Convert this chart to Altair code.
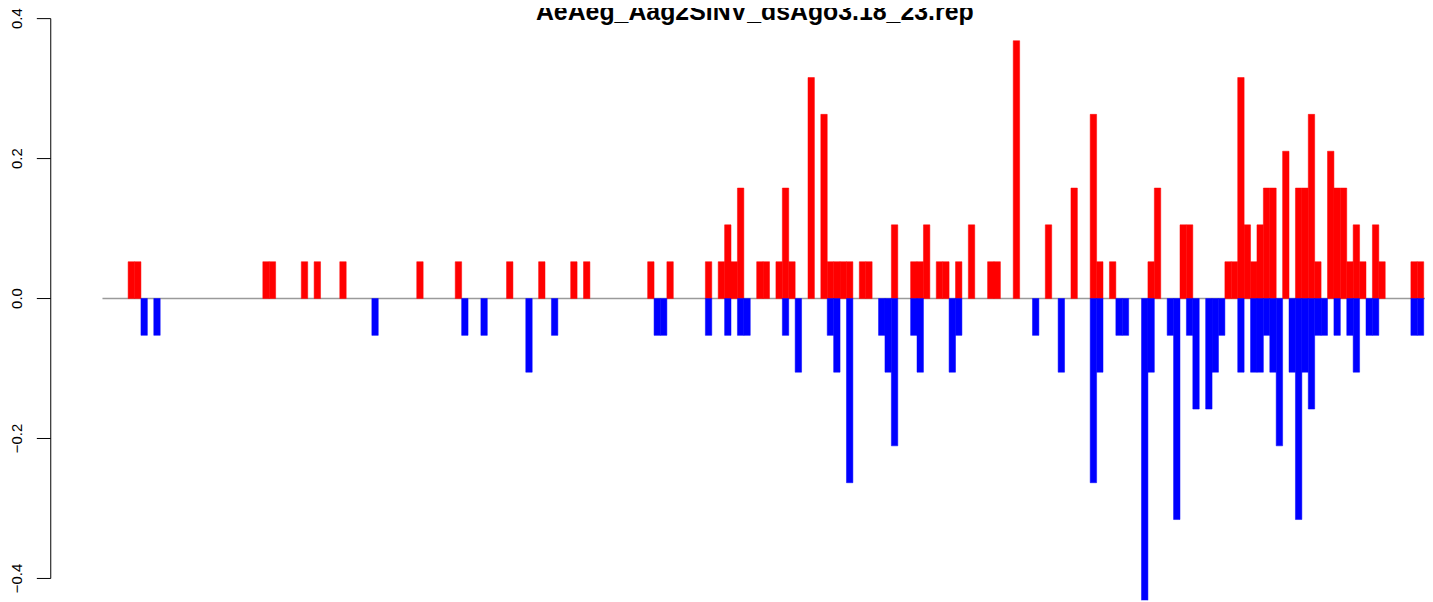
import altair as alt
import pandas as pd

title_text = "AeAeg_Aag2SINV_dsAgo3.18_23.rep"

# bar slot index (position along the reference) and value, positive strand
pos_idx = [0, 1, 21, 22, 27, 29, 33, 45, 51, 59, 64, 69, 71, 81, 84, 90, 92, 93, 94, 95,
           98, 99, 101, 102, 103, 106, 108, 109, 110, 111, 112, 114, 115, 119, 122, 123,
           124, 126, 127, 129, 131, 134, 135, 138, 143, 147, 150, 151, 153, 159, 160, 164,
           165, 171, 172, 173, 174, 175, 176, 177, 178, 180, 182, 183, 184, 185, 187, 188,
           189, 190, 191, 192, 194, 195, 200, 201]
pos_val = [0.0526, 0.0526, 0.0526, 0.0526, 0.0526, 0.0526, 0.0526, 0.0526, 0.0526, 0.0526,
           0.0526, 0.0526, 0.0526, 0.0526, 0.0526, 0.0526, 0.0526, 0.1053, 0.0526, 0.1579,
           0.0526, 0.0526, 0.0526, 0.1579, 0.0526, 0.3158, 0.2632, 0.0526, 0.0526, 0.0526,
           0.0526, 0.0526, 0.0526, 0.1053, 0.0526, 0.0526, 0.1053, 0.0526, 0.0526, 0.0526,
           0.1053, 0.0526, 0.0526, 0.3684, 0.1053, 0.1579, 0.2632, 0.0526, 0.0526, 0.0526,
           0.1579, 0.1053, 0.1053, 0.0526, 0.0526, 0.3158, 0.1053, 0.0526, 0.1053, 0.1579,
           0.1579, 0.2105, 0.1579, 0.1579, 0.2632, 0.0526, 0.2105, 0.1579, 0.1579, 0.0526,
           0.1053, 0.0526, 0.1053, 0.0526, 0.0526, 0.0526]

# negative strand
neg_idx = [2, 4, 38, 52, 55, 62, 66, 82, 83, 90, 93, 95, 96, 102, 104, 109, 110, 112, 117,
           118, 119, 122, 123, 128, 129, 141, 145, 150, 151, 154, 155, 158, 159, 162, 163,
           165, 166, 168, 169, 170, 173, 175, 176, 177, 178, 179, 181, 182, 183, 184, 185,
           186, 188, 190, 191, 193, 194, 200, 201]
neg_val = [-0.0526, -0.0526, -0.0526, -0.0526, -0.0526, -0.1053, -0.0526, -0.0526, -0.0526,
           -0.0526, -0.0526, -0.0526, -0.0526, -0.0526, -0.1053, -0.0526, -0.1053, -0.2632,
           -0.0526, -0.1053, -0.2105, -0.0526, -0.1053, -0.1053, -0.0526, -0.0526, -0.1053,
           -0.2632, -0.1053, -0.0526, -0.0526, -0.4737, -0.1053, -0.0526, -0.3158, -0.0526,
           -0.1579, -0.1579, -0.1053, -0.0526, -0.1053, -0.1053, -0.1053, -0.0526, -0.1053,
           -0.2105, -0.1053, -0.3158, -0.1053, -0.1579, -0.0526, -0.0526, -0.0526, -0.0526,
           -0.1053, -0.0526, -0.0526, -0.0526, -0.0526]

y_ticks = [-0.4, -0.2, 0.0, 0.2, 0.4]
y_tick_labels = ["\u22120.4", "\u22120.2", "0.0", "0.2", "0.4"]

pos_df = pd.DataFrame({"x": pos_idx, "v": pos_val})
pos_df["x2"] = pos_df["x"] + 1
neg_df = pd.DataFrame({"x": neg_idx, "v": neg_val})
neg_df["x2"] = neg_df["x"] + 1
tick_df = pd.DataFrame({"t": y_ticks, "lab": y_tick_labels})

W, H = 1330, 594
xscale = alt.Scale(domain=[-4, 202.2], nice=False, zero=False)
yscale = alt.Scale(domain=[-0.43126, 0.41279], nice=False, zero=False)
FONT = "Liberation Sans"

zero = alt.Chart(pd.DataFrame({"z": [0.0]})).mark_rule(color="#9a9a9a", strokeWidth=1.5).encode(
    y=alt.Y("z:Q", scale=yscale, axis=None)
)

axis_line = alt.Chart(pd.DataFrame({"a": [min(y_ticks)], "b": [max(y_ticks)]})).mark_rule(
    color="black", strokeWidth=1, clip=False
).encode(
    x=alt.value(-52),
    y=alt.Y("a:Q", scale=yscale, axis=None),
    y2="b:Q",
)

ticks = alt.Chart(tick_df).mark_rule(color="black", strokeWidth=1, clip=False).encode(
    x=alt.value(-66),
    x2=alt.value(-52),
    y=alt.Y("t:Q", scale=yscale, axis=None),
)

labels = alt.Chart(tick_df).mark_text(
    font=FONT, fontSize=15, color="black", angle=270,
    align="center", baseline="alphabetic", clip=False
).encode(
    x=alt.value(-81),
    y=alt.Y("t:Q", scale=yscale, axis=None),
    text="lab:N",
)

def bars(df, color):
    return alt.Chart(df).mark_bar(color=color, stroke=color, strokeWidth=0.5, clip=True).encode(
        x=alt.X("x:Q", scale=xscale, axis=None),
        x2="x2:Q",
        y=alt.Y("v:Q", scale=yscale, axis=None),
        y2=alt.Y2(datum=0),
    )

red = bars(pos_df, "#FF0000")
blue = bars(neg_df, "#0000FF")

title = alt.Chart(pd.DataFrame({"t": [title_text]})).mark_text(
    font=FONT, fontSize=25, fontWeight="bold", color="black",
    align="center", baseline="alphabetic", clip=False
).encode(
    x=alt.value(656), y=alt.value(10), text="t:N"
)

chart = alt.layer(zero, red, blue, axis_line, ticks, labels, title).properties(
    width=W, height=H,
    padding={"left": 95, "top": 0, "right": 0, "bottom": 0},
    autosize=alt.AutoSizeParams(type="none"),
).configure_view(stroke=None)

chart.save("out.html", embed_options={"renderer": "svg", "actions": False})
